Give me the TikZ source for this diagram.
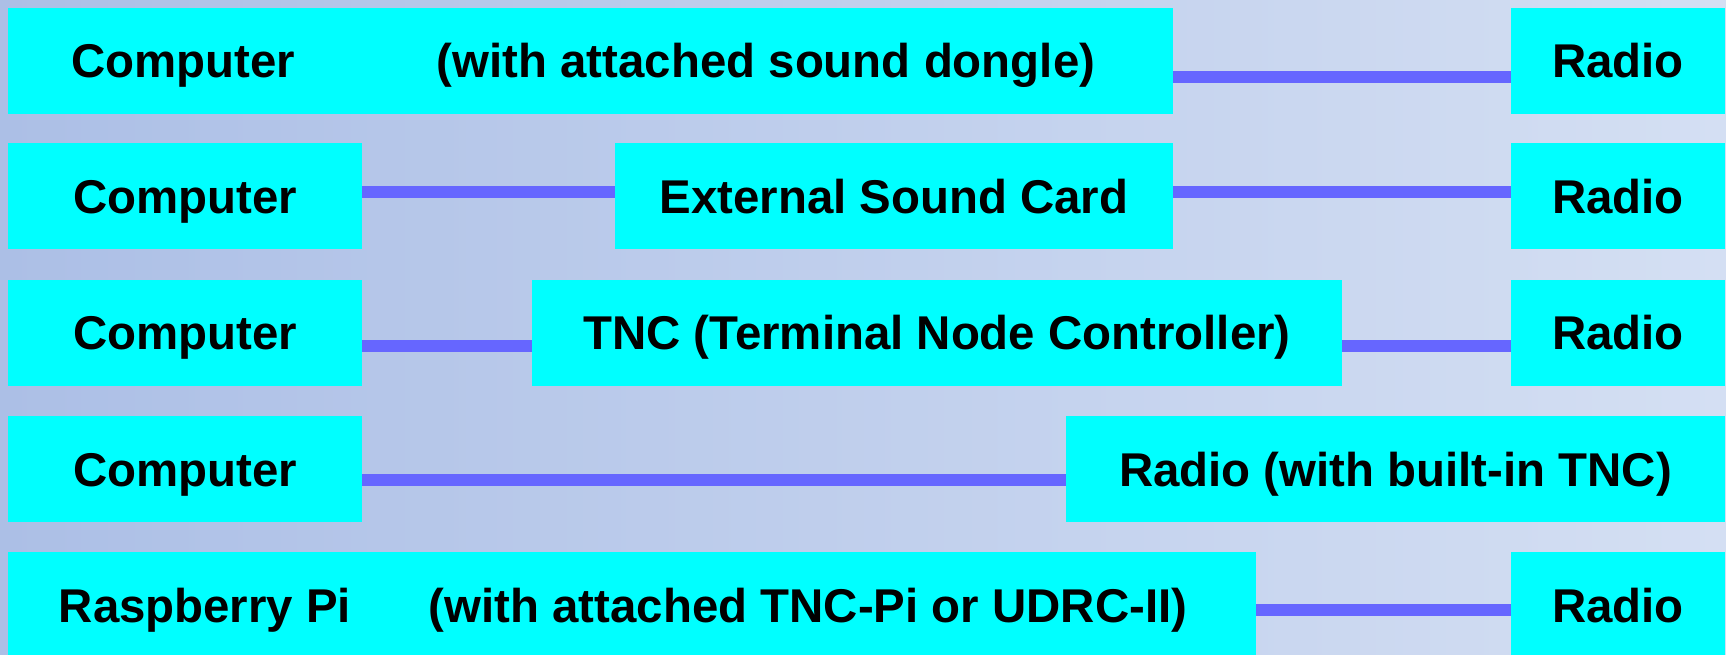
\documentclass[tikz,border=0pt]{standalone}
\usepackage{fontspec}
\setmainfont{Liberation Sans}
\usepackage{tikz}

\definecolor{boxcyan}{RGB}{0,255,255}
\definecolor{linkblue}{RGB}{102,102,255}
\definecolor{bgleft}{RGB}{172,191,230}
\definecolor{bgright}{RGB}{212,223,243}

\tikzset{
	box/.style={fill=boxcyan, inner sep=0pt, minimum height=53pt, text height=17pt, text depth=0pt,
		font=\fontsize{23.7}{28}\selectfont\bfseries},
	lbl/.style={inner sep=0pt, text height=17pt, text depth=0pt, font=\fontsize{23.7}{28}\selectfont\bfseries},
	link/.style={draw=linkblue, line width=6pt}
}

\begin{document}
\begin{tikzpicture}[x=0.5pt,y=-0.5pt]
	\useasboundingbox (0,0) rectangle (1726,654);
	\clip (0,0) rectangle (1726,654);
	%background
	\shade[left color=bgleft, right color=bgright] (0,0) rectangle (1726,654);

	%row 1
	\node[box, minimum width=582.5pt] (pc1) at (590.5,60.5) {};
	\node[lbl] (pc1a) at (183,60.5) {Computer};
	\node[lbl] (pc1b) at (766,60.5) {(with attached sound dongle)};
	\node[box, minimum width=107pt] (r1) at (1618,60.5) {Radio};

	%row 2
	\node[box, minimum width=177pt] (c2)  at (185,196) {Computer};
	\node[box, minimum width=279pt] (snd) at (894,196) {External Sound Card};
	\node[box, minimum width=107pt] (r2)  at (1618,196) {Radio};

	%row 3
	\node[box, minimum width=177pt] (c3)  at (185,332.5) {Computer};
	\node[box, minimum width=405pt] (tnc) at (937,332.5) {TNC (Terminal Node Controller)};
	\node[box, minimum width=107pt] (r3)  at (1618,332.5) {Radio};

	%row 4
	\node[box, minimum width=177pt]   (c4)   at (185,469) {Computer};
	\node[box, minimum width=329.5pt] (rtnc) at (1395.5,469) {Radio (with built-in TNC)};

	%row 5
	\node[box, minimum width=624pt] (pi) at (632,605) {};
	\node[lbl] (pia) at (205,605) {Raspberry Pi};
	\node[lbl] (pib) at (808,605) {(with attached TNC-Pi or UDRC-II)};
	\node[box, minimum width=107pt] (r5) at (1618,605) {Radio};

	%links
	\draw[link] (pc1.east |- 0,77)	-- (r1.west |- 0,77);
	\draw[link] (c2.east |- 0,192)	-- (snd.west |- 0,192);
	\draw[link] (snd.east |- 0,192)	-- (r2.west |- 0,192);
	\draw[link] (c3.east |- 0,346)	-- (tnc.west |- 0,346);
	\draw[link] (tnc.east |- 0,346)	-- (r3.west |- 0,346);
	\draw[link] (c4.east |- 0,480)	-- (rtnc.west |- 0,480);
	\draw[link] (pi.east |- 0,610)	-- (r5.west |- 0,610);
\end{tikzpicture}
\end{document}
